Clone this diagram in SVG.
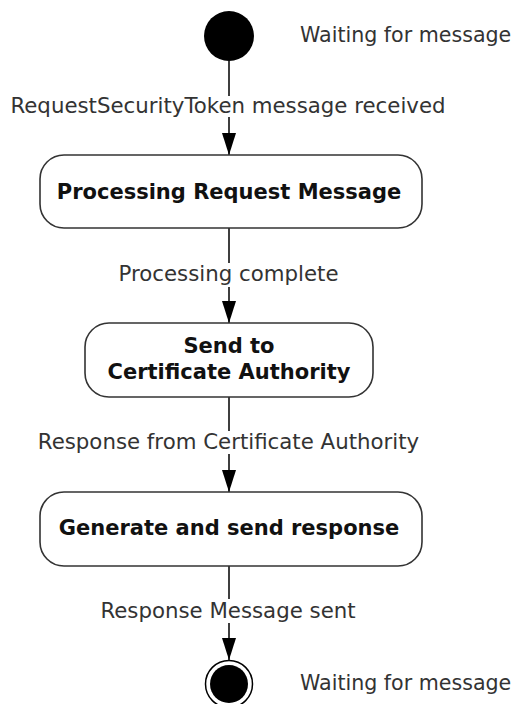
<svg xmlns="http://www.w3.org/2000/svg" width="521" height="704" viewBox="0 0 521 704">
<style>
.lbl{font-family:"DejaVu Sans","Liberation Sans",sans-serif;font-size:21.3px;fill:#333;text-anchor:middle}
.side{font-family:"DejaVu Sans","Liberation Sans",sans-serif;font-size:20.6px;fill:#333}
.nt{font-family:"DejaVu Sans","Liberation Sans",sans-serif;font-size:21px;font-weight:bold;fill:#111;text-anchor:middle}
.box{fill:#fff;stroke:#333;stroke-width:1.6}
.conn{fill:none;stroke:#000;stroke-width:1.5}
</style>
<defs>
<marker id="arr" viewBox="0 0 22 14" refX="22" refY="7" markerWidth="22" markerHeight="14" markerUnits="userSpaceOnUse" orient="auto">
<path d="M0,0 L22,7 L0,14 Z" fill="#000"/>
</marker>
</defs>
<rect width="521" height="704" fill="#fff"/>
<g id="connectors">
<path class="conn" d="M229,61 L229,96 M229,117 L229,155" marker-end="url(#arr)"/>
<path class="conn" d="M229,228 L229,263 M229,287 L229,323" marker-end="url(#arr)"/>
<path class="conn" d="M229,397 L229,431 M229,454 L229,492" marker-end="url(#arr)"/>
<path class="conn" d="M229,566 L229,599 M229,623 L229,660" marker-end="url(#arr)"/>
<text class="lbl" x="228" y="113">RequestSecurityToken message received</text>
<text class="lbl" x="228.5" y="281">Processing complete</text>
<text class="lbl" x="228.5" y="449">Response from Certificate Authority</text>
<text class="lbl" x="228" y="618">Response Message sent</text>
</g>
<g id="start">
<circle cx="229" cy="36" r="25" fill="#000"/>
<text class="side" x="300" y="42">Waiting for message</text>
</g>
<g id="processing">
<rect class="box" x="40" y="155" width="382" height="73" rx="24"/>
<text class="nt" x="229" y="199">Processing Request Message</text>
</g>
<g id="send">
<rect class="box" x="85" y="323" width="288" height="74" rx="24"/>
<text class="nt" x="229" y="353">Send to</text>
<text class="nt" x="229" y="379">Certificate Authority</text>
</g>
<g id="generate">
<rect class="box" x="40" y="492" width="382" height="74" rx="24"/>
<text class="nt" x="229" y="535">Generate and send response</text>
</g>
<g id="end">
<circle cx="229" cy="684" r="23.5" fill="#fff" stroke="#000" stroke-width="1.5"/>
<circle cx="229" cy="684" r="19" fill="#000"/>
<text class="side" x="300" y="690">Waiting for message</text>
</g>
</svg>
